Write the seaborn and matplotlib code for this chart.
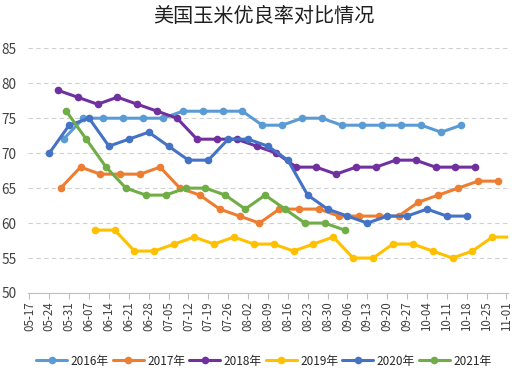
import numpy as np
import pandas as pd
import matplotlib
matplotlib.use('Agg')
from matplotlib import pyplot as plt
import seaborn as sns

# weekly good/excellent ratings
years = ['2016年', '2017年', '2018年', '2019年', '2020年', '2021年']
start_dates = ['05-29', '05-28', '05-27', '06-09', '05-24', '05-30']
r2016 = [72, 75, 75, 75, 75, 75, 76, 76, 76, 76, 74, 74, 75, 75, 74, 74, 74, 74, 74, 73, 74]
r2017 = [65, 68, 67, 67, 67, 68, 65, 64, 62, 61, 60, 62, 62, 62, 61, 61, 61, 61, 63, 64, 65, 66, 66]
r2018 = [79, 78, 77, 78, 77, 76, 75, 72, 72, 72, 71, 70, 68, 68, 67, 68, 68, 69, 69, 68, 68, 68]
r2019 = [59, 59, 56, 56, 57, 58, 57, 58, 57, 57, 56, 57, 58, 55, 55, 57, 57, 56, 55, 56, 58, 58]
r2020 = [70, 74, 75, 71, 72, 73, 71, 69, 69, 72, 72, 71, 69, 64, 62, 61, 60, 61, 61, 62, 61, 61]
r2021 = [76, 72, 68, 65, 64, 64, 65, 65, 64, 62, 64, 62, 60, 60, 59]
tick_labels = ['05-17', '05-24', '05-31', '06-07', '06-14', '06-21', '06-28', '07-05', '07-12',
               '07-19', '07-26', '08-02', '08-09', '08-16', '08-23', '08-30', '09-06', '09-13',
               '09-20', '09-27', '10-04', '10-11', '10-18', '10-25', '11-01']
colors = ['#5B9BD5', '#ED7D31', '#7030A0', '#FFC000', '#4472C4', '#70AD47']

series = [r2016, r2017, r2018, r2019, r2020, r2021]
base = pd.Timestamp('2021-05-17')
rows = []
for yr, sd, vals in zip(years, start_dates, series):
    d0 = pd.Timestamp('2021-' + sd)
    for i, v in enumerate(vals):
        day = (d0 + pd.Timedelta(days=7 * i) - base).days
        rows.append([yr, day, v])
df = pd.DataFrame(rows, columns=['year', 'day', 'rate'])

sns.set_style('white')
plt.rcParams['font.family'] = ['Noto Sans CJK SC', 'DejaVu Sans']

fig = plt.figure(figsize=(5.28, 3.75), dpi=100)
ax = fig.add_axes([0.0525, 0.2187, 0.91, 0.6525])

sns.lineplot(data=df, x='day', y='rate', hue='year', hue_order=years, palette=colors,
             marker='o', markersize=5.5, markeredgewidth=0, linewidth=2.2, ax=ax)

ax.set_ylim(50, 85)
ax.set_yticks(np.arange(50, 86, 5))
ax.set_xlim(-0.6, 168.6)
ax.set_xticks(np.arange(0, 169, 7))
ax.set_xticklabels(tick_labels, rotation=90, fontsize=8.3, color='#404040')
ax.tick_params(axis='y', labelsize=9.8, colors='#404040', length=0, pad=8)
ax.tick_params(axis='x', length=4, width=0.8, color='#BFBFBF', pad=2, bottom=True)
ax.yaxis.grid(True, linestyle=(0, (4, 3)), color='#D0D0D0', linewidth=0.8)
for s in ['top', 'right', 'left']:
    ax.spines[s].set_visible(False)
ax.spines['bottom'].set_color('#BFBFBF')
ax.set_xlabel('')
ax.set_ylabel('')

fig.suptitle('美国玉米优良率对比情况', fontsize=14.5, y=0.985, color='#202020')

handles, labels = ax.get_legend_handles_labels()
ax.legend_.remove()
fig.legend(handles, labels, loc='center', bbox_to_anchor=(0.5, 0.037), ncol=6, frameon=False,
           fontsize=8.5, handlelength=2.6, handletextpad=0.3, columnspacing=0.35)

fig.savefig('out.png', dpi=100)
